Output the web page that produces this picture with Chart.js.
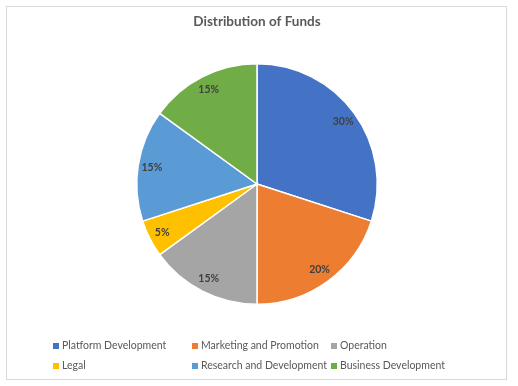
<!DOCTYPE html>
<html>
<head>
<meta charset="utf-8">
<script src="https://cdn.jsdelivr.net/npm/chart.js@4.4.1/dist/chart.umd.min.js"></script>
<style>
  html, body { margin: 0; padding: 0; background: #fff; }
  #wrap { width: 518px; height: 386px; position: relative; }
</style>
</head>
<body>
<div id="wrap"><canvas id="chart"></canvas></div>
<script>
// Chart data
const categories = ['Platform Development', 'Marketing and Promotion', 'Operation',
                    'Legal', 'Research and Development', 'Business Development'];
const shares = [30, 20, 15, 5, 15, 15];
const sliceColors = ['#4472C4', '#ED7D31', '#A5A5A5', '#FFC000', '#5B9BD5', '#70AD47'];
const chartTitle = 'Distribution of Funds';

const fontName = 'Lato, "Liberation Sans", sans-serif';

// Frame, title, percentage labels and the two-row legend
const decorations = {
    id: 'decorations',
    beforeDraw: function(chart) {
        const ctx = chart.ctx;
        ctx.save();
        ctx.fillStyle = '#fff';
        ctx.fillRect(0, 0, chart.width, chart.height);
        ctx.strokeStyle = '#D9D9D9';
        ctx.lineWidth = 1;
        ctx.strokeRect(6.5, 6.5, 500, 373);
        ctx.restore();
    },
    afterDraw: function(chart) {
        const ctx = chart.ctx;
        ctx.save();
        // title
        ctx.fillStyle = '#595959';
        ctx.font = 'bold 13.5px ' + fontName;
        ctx.textAlign = 'center';
        ctx.textBaseline = 'middle';
        ctx.fillText(chartTitle, 257, 22);

        // value labels inside the slices
        const meta = chart.getDatasetMeta(0);
        ctx.fillStyle = '#404040';
        ctx.font = 'bold 10.5px ' + fontName;
        meta.data.forEach(function(arc, i) {
            const mid = (arc.startAngle + arc.endAngle) / 2;
            const r = arc.outerRadius * 0.885;
            ctx.fillText(shares[i] + '%', arc.x + Math.cos(mid) * r, arc.y + Math.sin(mid) * r);
        });

        // legend
        const colX = [53, 192, 331];
        const rowY = [346, 366];
        ctx.font = '10.5px ' + fontName;
        ctx.textAlign = 'left';
        categories.forEach(function(name, i) {
            const x = colX[i % 3];
            const y = rowY[Math.floor(i / 3)];
            ctx.fillStyle = sliceColors[i];
            ctx.fillRect(x, y - 3, 6, 6);
            ctx.fillStyle = '#595959';
            ctx.fillText(name, x + 9, y);
        });
        ctx.restore();
    }
};

new Chart(document.getElementById('chart'), {
    type: 'pie',
    data: {
        labels: categories,
        datasets: [{
            data: shares,
            backgroundColor: sliceColors,
            borderColor: '#fff',
            borderWidth: 1.5
        }]
    },
    options: {
        responsive: true,
        maintainAspectRatio: false,
        animation: false,
        layout: { padding: { top: 63, bottom: 81, left: 136, right: 140 } },
        plugins: {
            legend: { display: false },
            title: { display: false },
            tooltip: { enabled: false }
        }
    },
    plugins: [decorations]
});
</script>
</body>
</html>
